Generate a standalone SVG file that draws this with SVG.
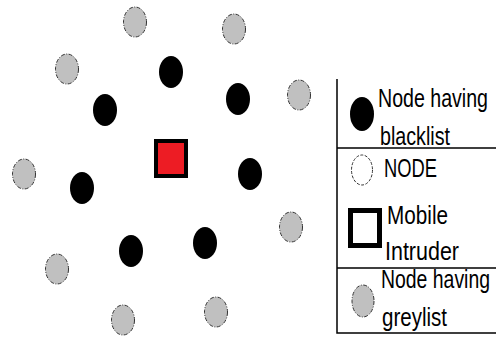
<svg xmlns="http://www.w3.org/2000/svg" width="496" height="337" viewBox="0 0 496 337">
<style>
.g{fill:#c0c0c0;stroke:#333;stroke-width:1;stroke-dasharray:4 1.5 1 1.5}
.b{fill:#000}
.t{font-family:"Liberation Sans",Arial,sans-serif;font-size:20px;fill:#000}
.l{stroke:#000;stroke-width:1.5;fill:none}
</style>
<rect width="496" height="337" fill="#fff"/>
<g id="grey-nodes">
<ellipse id="g1" class="g" cx="135" cy="22" rx="11.5" ry="15"/>
<ellipse id="g2" class="g" cx="234" cy="29" rx="11.5" ry="15"/>
<ellipse id="g3" class="g" cx="67" cy="69" rx="11.5" ry="15"/>
<ellipse id="g4" class="g" cx="299" cy="95" rx="11.5" ry="15"/>
<ellipse id="g5" class="g" cx="24" cy="174" rx="11.5" ry="15"/>
<ellipse id="g6" class="g" cx="291" cy="227" rx="11.5" ry="15"/>
<ellipse id="g7" class="g" cx="57" cy="269" rx="11.5" ry="15"/>
<ellipse id="g8" class="g" cx="123" cy="320" rx="11.5" ry="15"/>
<ellipse id="g9" class="g" cx="216" cy="312" rx="11.5" ry="15"/>
</g>
<g id="black-nodes">
<ellipse id="b1" class="b" cx="171" cy="72" rx="12" ry="16"/>
<ellipse id="b2" class="b" cx="238" cy="99" rx="12" ry="16"/>
<ellipse id="b3" class="b" cx="105" cy="110" rx="12" ry="16"/>
<ellipse id="b4" class="b" cx="82" cy="188" rx="12" ry="16"/>
<ellipse id="b5" class="b" cx="250" cy="174" rx="12" ry="16"/>
<ellipse id="b6" class="b" cx="131" cy="251" rx="12" ry="16"/>
<ellipse id="b7" class="b" cx="205" cy="243" rx="12" ry="16"/>
</g>
<g id="intruder">
<rect x="156" y="141" width="30" height="35" fill="#ed1c24" stroke="#000" stroke-width="4"/>
</g>
<g id="legend">
<path class="l" d="M337 79V333H496M337 148H496M337 268H496"/>
<ellipse class="b" cx="362" cy="114" rx="12" ry="17"/>
<text class="t" transform="translate(378 107) scale(1 1.25)" textLength="110" lengthAdjust="spacingAndGlyphs">Node having</text>
<text class="t" transform="translate(380 145) scale(1 1.25)" textLength="70" lengthAdjust="spacingAndGlyphs">blacklist</text>
<ellipse cx="362" cy="170" rx="10.5" ry="15" fill="#fff" stroke="#333" stroke-width="1" stroke-dasharray="3 1.5"/>
<text class="t" transform="translate(384 177) scale(1 1.25)" textLength="53" lengthAdjust="spacingAndGlyphs">NODE</text>
<rect x="350.5" y="210.5" width="29" height="35" fill="#fff" stroke="#000" stroke-width="5"/>
<text class="t" transform="translate(387 224) scale(1 1.25)" textLength="61" lengthAdjust="spacingAndGlyphs">Mobile</text>
<text class="t" transform="translate(385 260) scale(1 1.25)" textLength="74" lengthAdjust="spacingAndGlyphs">Intruder</text>
<text class="t" transform="translate(381 288) scale(1 1.25)" textLength="109" lengthAdjust="spacingAndGlyphs">Node having</text>
<ellipse class="g" cx="363" cy="301" rx="11" ry="16"/>
<text class="t" transform="translate(382 326) scale(1 1.25)" textLength="65" lengthAdjust="spacingAndGlyphs">greylist</text>
</g>
</svg>
